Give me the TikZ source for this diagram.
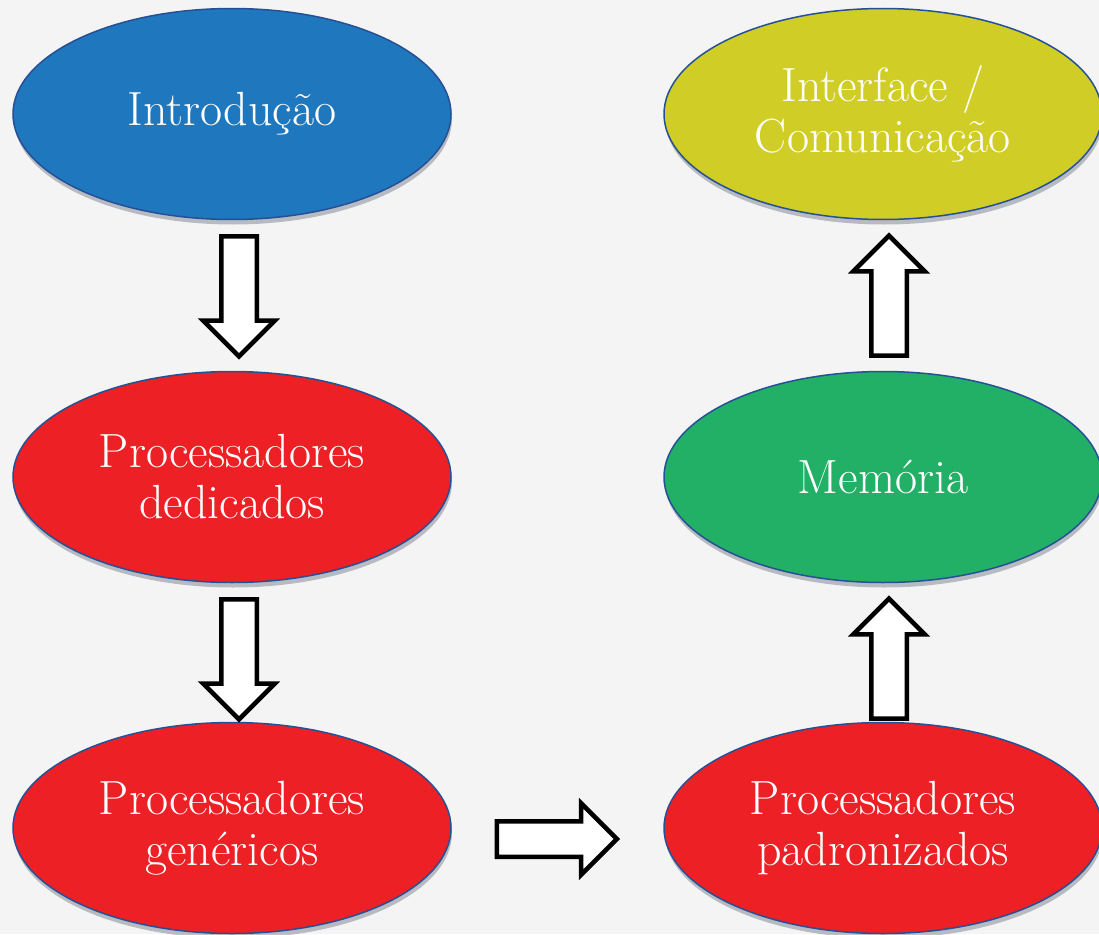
\documentclass[tikz,border=0pt]{standalone}
\usepackage{fontspec}
\usetikzlibrary{shapes.geometric,shapes.arrows,shadows,calc,positioning}
\definecolor{fundo}{RGB}{244,244,244}
\definecolor{azul}{RGB}{31,120,190}
\definecolor{vermelho}{RGB}{237,32,37}
\definecolor{verde}{RGB}{34,176,103}
\definecolor{amarelo}{RGB}{208,206,38}
\definecolor{borda}{RGB}{37,80,150}
\definecolor{sombra}{RGB}{70,80,100}
\begin{document}
\begin{tikzpicture}[x=1pt,y=-1pt,line join=miter,
		etapa/.style={ellipse,draw=borda,line width=1.5pt,minimum width=438pt,minimum height=211pt,inner sep=0pt,
			align=center,text=white,font=\fontsize{48}{51}\selectfont,
			drop shadow={shadow xshift=1pt,shadow yshift=-5pt,opacity=0.35,fill=sombra}},
		seta/.style={single arrow,draw=black,fill=white,line width=4.5pt,single arrow head extend=18pt,
			single arrow tip angle=90,minimum height=120pt,inner xsep=0pt,inner ysep=15.5pt,text height=0pt,text depth=0pt}]
				\useasboundingbox (0,0) rectangle (1099,934);
				\fill[fundo] (0,0) rectangle (1099,934);
				% etapas
				\node[etapa,fill=azul] (intro) at (232,114) {Introdução};
				\node[etapa,fill=vermelho] (dedic) at (232,477) {Processadores\\dedicados};
				\node[etapa,fill=vermelho] (generic) at (232,828) {Processadores\\genéricos};
				\node[etapa,fill=vermelho] (padron) at (883,828) {Processadores\\padronizados};
				\node[etapa,fill=verde] (mem) at (883,477) {Memória};
				\node[etapa,fill=amarelo] (interf) at (883,114) {Interface /\\Comunicação};
				% setas
				\node[seta,rotate=-90] (s1) at ($(intro.south)!0.5!(dedic.north)+(7,-8)$) {};
				\node[seta,rotate=-90] (s2) at ($(dedic.south)!0.5!(generic.north)+(7,-2)$) {};
				\node[seta] (s3) at ($(generic.east)!0.5!(padron.west)+(-9.5,11)$) {};
				\node[seta,rotate=90] (s4) at ($(padron.north)!0.5!(mem.south)+(6,15)$) {};
				\node[seta,rotate=90] (s5) at ($(mem.north)!0.5!(interf.south)+(6,9)$) {};
			\end{tikzpicture}
\end{document}
